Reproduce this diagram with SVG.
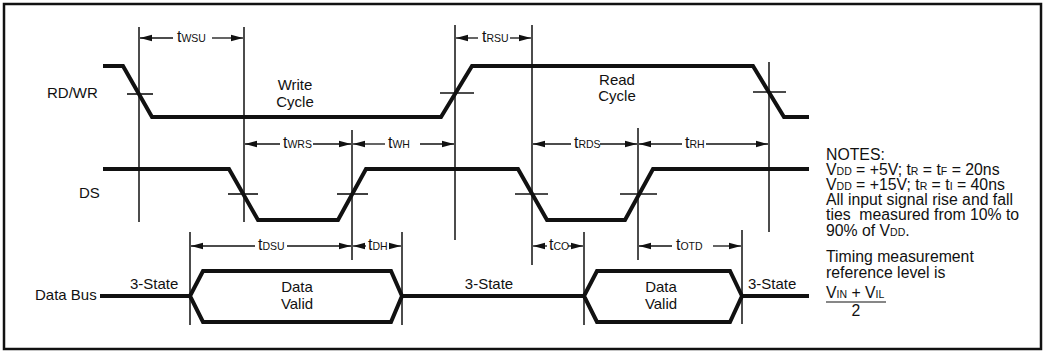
<svg xmlns="http://www.w3.org/2000/svg" width="1046" height="353" viewBox="0 0 1046 353">
<style>
text{font-family:"Liberation Sans",Arial,sans-serif;fill:#111}
.nm{font-size:15px}
.nt{font-size:15.8px}
.lb{font-size:16px}
.sub{font-size:10.5px}
.sig{fill:none;stroke:#111;stroke-width:4;stroke-linejoin:miter}
.ref{stroke:#111;stroke-width:1.5;fill:none}
.tick{stroke:#111;stroke-width:1.6}
.dim{stroke:#111;stroke-width:1.3;marker-end:url(#ah)}
</style>
<defs>
<marker id="ah" markerUnits="userSpaceOnUse" markerWidth="12" markerHeight="8" refX="12" refY="4" orient="auto">
<path d="M0,0.8 L12,4 L0,7.2 z" fill="#111"/>
</marker>
</defs>
<rect x="4" y="4" width="1037" height="345" fill="#fff" stroke="#111" stroke-width="2.5"/>

<g id="rdwr">
<polyline class="sig" points="103,66 123,66 152,117 441,117 472,66 753,66 784,117 809,117"/>
<line class="tick" x1="127" y1="94" x2="153" y2="94"/>
<line class="tick" x1="440" y1="93" x2="474" y2="93"/>
<line class="tick" x1="753" y1="92" x2="786" y2="92"/>
<text class="nm" x="47" y="98">RD/WR</text>
<text class="nm" x="295" y="90" text-anchor="middle">Write</text>
<text class="nm" x="295" y="107" text-anchor="middle">Cycle</text>
<text class="nm" x="617" y="85" text-anchor="middle">Read</text>
<text class="nm" x="617" y="101" text-anchor="middle">Cycle</text>
</g>

<g id="ds">
<polyline class="sig" points="103,169 229,169 258,220 338,220 366,169 518,169 547,220 625,220 653,169 809,169"/>
<line class="tick" x1="228" y1="194" x2="258" y2="194"/>
<line class="tick" x1="337" y1="194" x2="368" y2="194"/>
<line class="tick" x1="515" y1="194" x2="548" y2="194"/>
<line class="tick" x1="620" y1="194" x2="657" y2="194"/>
<text class="nm" x="79" y="198">DS</text>
</g>

<g id="databus">
<polyline class="sig" points="100,296 190,296"/>
<polygon class="sig" points="190,296 203,271 391,271 402,296 391,322 203,322"/>
<polyline class="sig" points="402,296 584,296"/>
<polygon class="sig" points="584,296 597,271 730,271 742,296 730,322 597,322"/>
<polyline class="sig" points="742,296 809,296"/>
<text class="nm" x="35" y="300">Data Bus</text>
<text class="nm" x="130" y="289">3-State</text>
<text class="nm" x="297" y="292" text-anchor="middle">Data</text>
<text class="nm" x="297" y="309" text-anchor="middle">Valid</text>
<text class="nm" x="489" y="289" text-anchor="middle">3-State</text>
<text class="nm" x="661" y="292" text-anchor="middle">Data</text>
<text class="nm" x="661" y="309" text-anchor="middle">Valid</text>
<text class="nm" x="748" y="289">3-State</text>
</g>

<g id="reflines">
<line class="ref" x1="139" y1="27" x2="139" y2="222"/>
<line class="ref" x1="244" y1="27" x2="244" y2="222"/>
<line class="ref" x1="352" y1="130" x2="352" y2="260"/>
<line class="ref" x1="455" y1="25" x2="455" y2="240"/>
<line class="ref" x1="532" y1="25" x2="532" y2="265"/>
<line class="ref" x1="638" y1="128" x2="638" y2="260"/>
<line class="ref" x1="769" y1="62" x2="769" y2="232"/>
<line class="ref" x1="190" y1="232" x2="190" y2="325"/>
<line class="ref" x1="402" y1="232" x2="402" y2="325"/>
<line class="ref" x1="584" y1="232" x2="584" y2="325"/>
<line class="ref" x1="742" y1="230" x2="742" y2="324"/>
</g>

<g id="connectors">
<line class="dim" x1="173" y1="38" x2="140" y2="38"/>
<line class="dim" x1="212" y1="38" x2="243" y2="38"/>
<line class="dim" x1="478" y1="38" x2="456" y2="38"/>
<line class="dim" x1="510" y1="38" x2="531" y2="38"/>
<line class="dim" x1="280" y1="144" x2="245" y2="144"/>
<line class="dim" x1="313" y1="144" x2="351" y2="144"/>
<line class="dim" x1="385" y1="144" x2="353" y2="144"/>
<line class="dim" x1="420" y1="144" x2="454" y2="144"/>
<line class="dim" x1="571" y1="144" x2="533" y2="144"/>
<line class="dim" x1="600" y1="144" x2="637" y2="144"/>
<line class="dim" x1="682" y1="144" x2="639" y2="144"/>
<line class="dim" x1="706" y1="144" x2="768" y2="144"/>
<line class="dim" x1="255" y1="246" x2="191" y2="246"/>
<line class="dim" x1="287" y1="246" x2="351" y2="246"/>
<line class="dim" x1="366" y1="246" x2="353" y2="246"/>
<line class="dim" x1="390" y1="246" x2="401" y2="246"/>
<line class="dim" x1="547" y1="246" x2="533" y2="246"/>
<line class="dim" x1="568" y1="246" x2="583" y2="246"/>
<line class="dim" x1="672" y1="246" x2="639" y2="246"/>
<line class="dim" x1="713" y1="246" x2="741" y2="246"/>
</g>

<g id="labels">
<text class="lb" x="177" y="42">t<tspan class="sub">WSU</tspan></text>
<text class="lb" x="482" y="42">t<tspan class="sub">RSU</tspan></text>
<text class="lb" x="283" y="148">t<tspan class="sub">WRS</tspan></text>
<text class="lb" x="388" y="148">t<tspan class="sub">WH</tspan></text>
<text class="lb" x="574" y="148">t<tspan class="sub">RDS</tspan></text>
<text class="lb" x="685" y="148">t<tspan class="sub">RH</tspan></text>
<text class="lb" x="258" y="250">t<tspan class="sub">DSU</tspan></text>
<text class="lb" x="368" y="250">t<tspan class="sub">DH</tspan></text>
<text class="lb" x="549" y="250">t<tspan class="sub">CO</tspan></text>
<text class="lb" x="676" y="250">t<tspan class="sub">OTD</tspan></text>
</g>

<g id="notes">
<text class="nt" x="826" y="160">NOTES:</text>
<text class="nt" x="826" y="175">V<tspan class="sub">DD</tspan> = +5V; t<tspan class="sub">R</tspan> = t<tspan class="sub">F</tspan> = 20ns</text>
<text class="nt" x="826" y="190">V<tspan class="sub">DD</tspan> = +15V; t<tspan class="sub">R</tspan> = t<tspan class="sub">I</tspan> = 40ns</text>
<text class="nt" x="826" y="205">All input signal rise and fall</text>
<text class="nt" x="826" y="220">ties&#160; measured from 10% to</text>
<text class="nt" x="826" y="236">90% of V<tspan class="sub">DD</tspan>.</text>
<text class="nt" x="826" y="262">Timing measurement</text>
<text class="nt" x="826" y="278">reference level is</text>
<text class="nt" x="826" y="298">V<tspan class="sub">IN</tspan> + V<tspan class="sub">IL</tspan></text>
<line x1="826" y1="302" x2="886" y2="302" stroke="#111" stroke-width="1.2"/>
<text class="nt" x="856" y="316" text-anchor="middle">2</text>
</g>
</svg>
